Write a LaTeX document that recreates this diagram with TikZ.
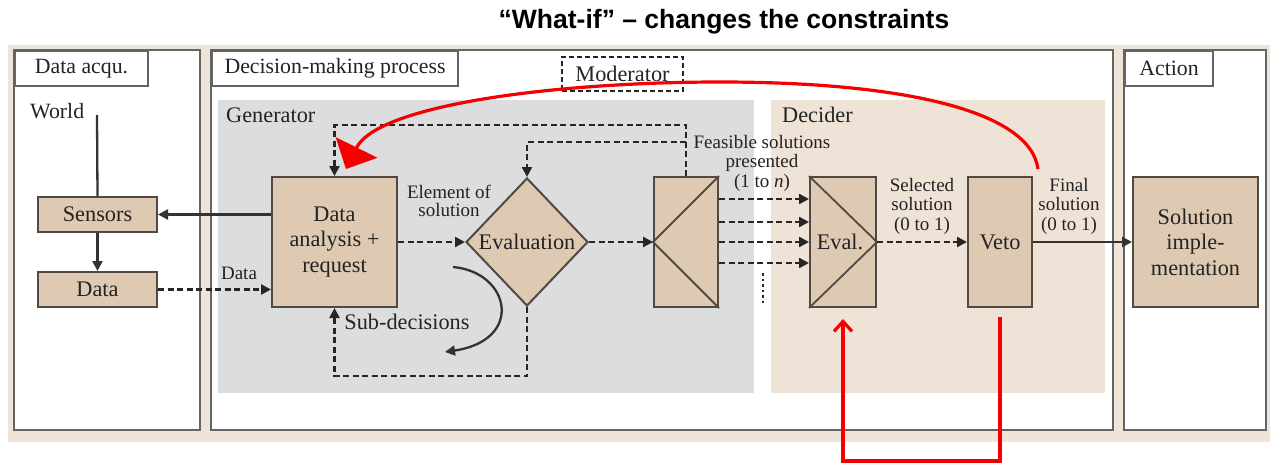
\documentclass[tikz,border=0pt]{standalone}
\usepackage{fontspec}
\setmainfont{Liberation Serif}
\newfontfamily\titlefont{Liberation Sans}
\usetikzlibrary{shapes.geometric,arrows.meta,calc}
\definecolor{bgbeige}{RGB}{240,228,216}
\definecolor{genGray}{RGB}{220,221,223}
\definecolor{decBeige}{RGB}{239,227,215}
\definecolor{nodeFill}{RGB}{222,202,178}
\definecolor{nodeDraw}{RGB}{80,74,66}
\definecolor{panelDraw}{RGB}{100,100,100}
\definecolor{txt}{RGB}{35,35,35}
\definecolor{redl}{RGB}{245,0,0}
\begin{document}
\begin{tikzpicture}[x=1pt,y=-1pt,
  bigtext/.style={font=\fontsize{22.3}{25.5}\selectfont, text=txt},
  medtext/.style={font=\fontsize{21.8}{24}\selectfont, text=txt},
  lbl/.style={font=\fontsize{19}{19.5}\selectfont, text=txt, align=center, inner sep=0pt},
  box/.style={draw=nodeDraw, fill=nodeFill, line width=2pt, bigtext, align=center, inner sep=0pt},
  panel/.style={draw=panelDraw, fill=white, line width=2.2pt},
  labelbox/.style={draw=panelDraw, fill=white, line width=2pt, medtext, inner sep=0pt},
  dashflow/.style={draw=black!85, line width=2.4pt, dash pattern=on 6pt off 3.5pt},
  tipB/.style={-{Triangle[length=10pt,width=10pt]}},
  solidflow/.style={draw=black!80, line width=2.3pt},
  redflow/.style={draw=redl, line width=3.2pt},
]
\useasboundingbox (0,0) rectangle (1273,463);
% title
\node[font=\titlefont\bfseries\fontsize{26.5}{30}\selectfont] (title) at (724,22) {“What-if” – changes the constraints};
% background and panels
\fill[bgbeige] (8,45) rectangle (1270,442);
\draw[panel] (14,50) rectangle (200,430);
\draw[panel] (211,50) rectangle (1113,430);
\draw[panel] (1124,50) rectangle (1266,430);
\node[labelbox, minimum width=133pt, minimum height=35pt, anchor=north west] (lacq) at (14,50) {Data acqu.};
\node[labelbox, minimum width=246pt, minimum height=35pt, anchor=north west] (ldec) at (211,50) {Decision-making process};
\node[labelbox, minimum width=88pt, minimum height=35pt, anchor=north west] (lact) at (1124,50) {Action};
% regions
\fill[genGray] (218,100) rectangle (754,393);
\fill[decBeige] (771,100) rectangle (1105,393);
\node[bigtext, anchor=west, inner sep=0pt] (lgen) at (226,115) {Generator};
\node[bigtext, anchor=west, inner sep=0pt] (ldcd) at (782,115) {Decider};
\node[medtext, anchor=west, inner sep=0pt] (lworld) at (30,111) {World};
\node[draw=black!85, line width=2pt, dash pattern=on 5pt off 3pt, minimum width=121pt, minimum height=34pt, inner sep=0pt, bigtext] (moder) at (622.5,74) {Moderator};
% nodes
\node[box, minimum width=119pt, minimum height=35pt] (sensors) at (97.5,214.5) {Sensors};
\node[box, minimum width=119pt, minimum height=35pt] (data) at (97.5,289.5) {Data};
\node[box, minimum width=125pt, minimum height=130pt] (da) at (334.5,242) {Data\\analysis +\\request};
\node[box, shape=diamond, minimum width=122pt, minimum height=128pt, aspect=0.95] (ev) at (527,242) {Evaluation};
\node[box, minimum width=64pt, minimum height=130pt] (feas) at (686,242) {};
\node[box, minimum width=66pt, minimum height=130pt] (evalbox) at (843,242) {};
\node[bigtext, inner sep=0pt] (evaltext) at (840,242) {Eval.};
\node[box, minimum width=64pt, minimum height=130pt] (veto) at (1000,242) {Veto};
\node[box, minimum width=125pt, minimum height=130pt] (sol) at (1195.5,242) {Solution\\imple-\\mentation};
\draw[nodeDraw, line width=1.8pt] (feas.north east) -- (feas.west) -- (feas.south east);
\draw[nodeDraw, line width=1.8pt] (evalbox.north west) -- (evalbox.east) -- (evalbox.south west);
% labels
\node[font=\fontsize{19}{18}\selectfont, text=txt, align=center, inner sep=0pt] (lel) at (449,201) {Element of\\solution};
\node[lbl] (lfeas) at (762,163) {Feasible solutions\\presented\\(1 to \textit{n})};
\node[lbl] (lsel) at (922,206) {Selected\\solution\\(0 to 1)};
\node[lbl] (lfin) at (1069,206) {Final\\solution\\(0 to 1)};
\node[lbl] (ldata) at (239,273) {Data};
\node[bigtext, inner sep=0pt] (lsub) at (407,322) {Sub-decisions};
% coordinates
\coordinate (worldtop) at (97,115);
\coordinate (topline) at (0,125);
\coordinate (midline) at (0,142);
\coordinate (botline) at (0,376);
\coordinate (sa) at (453,267);
\coordinate (sb) at (445,352);
\coordinate (rb) at (0,461);
\coordinate (dot1) at (763,273);
\coordinate (dot2) at (763,303);
% connectors
\draw[solidflow] (worldtop) -- (sensors.north);
\draw[solidflow, tipB] (sensors.south) -- (data.north);
\draw[solidflow, tipB] (da.west |- sensors.east) -- (sensors.east);
\draw[dashflow, tipB] (data.east) -- (data.east -| da.west);
\draw[dashflow, tipB] (da.east) -- (ev.west);
\draw[dashflow, tipB] (ev.east) -- (feas.west);
\draw[dashflow, tipB] (feas.north) -- (feas.north |- topline) -| (da.north);
\draw[dashflow, tipB] (feas.north |- midline) -| (ev.north);
\draw[dashflow, tipB] (ev.south) -- (ev.south |- botline) -| (da.south);
\foreach \yy [count=\i] in {199,222,242,263} {
  \coordinate (fy\i) at (0,\yy);
  \draw[dashflow, tipB] (feas.east |- fy\i) -- (evalbox.west |- fy\i);
}
\draw[black!85, line width=2.4pt, dash pattern=on 2.5pt off 3pt] (dot1) -- (dot2);
\draw[dashflow, tipB] (evalbox.east) -- (veto.west);
\draw[solidflow, tipB] (veto.east) -- (sol.west);
\draw[solidflow, tipB] (sa) .. controls (510,272) and (525,340) .. (sb);
% red feedback
\draw[redflow, -{Triangle[length=24pt,width=46pt]}] ([xshift=5pt,yshift=7pt]veto.north east) .. controls (1030,110) and (900,82) .. (720,82) .. controls (560,82) and (378,104) .. ([xshift=75pt,yshift=7pt]da.north west);
\draw[redflow, -{Straight Barb[length=10pt,width=18pt]}] ([yshift=-9pt]veto.south) -- (veto.south |- rb) -- (evalbox.south |- rb) -- ([yshift=-11pt]evalbox.south);
\end{tikzpicture}
\end{document}
